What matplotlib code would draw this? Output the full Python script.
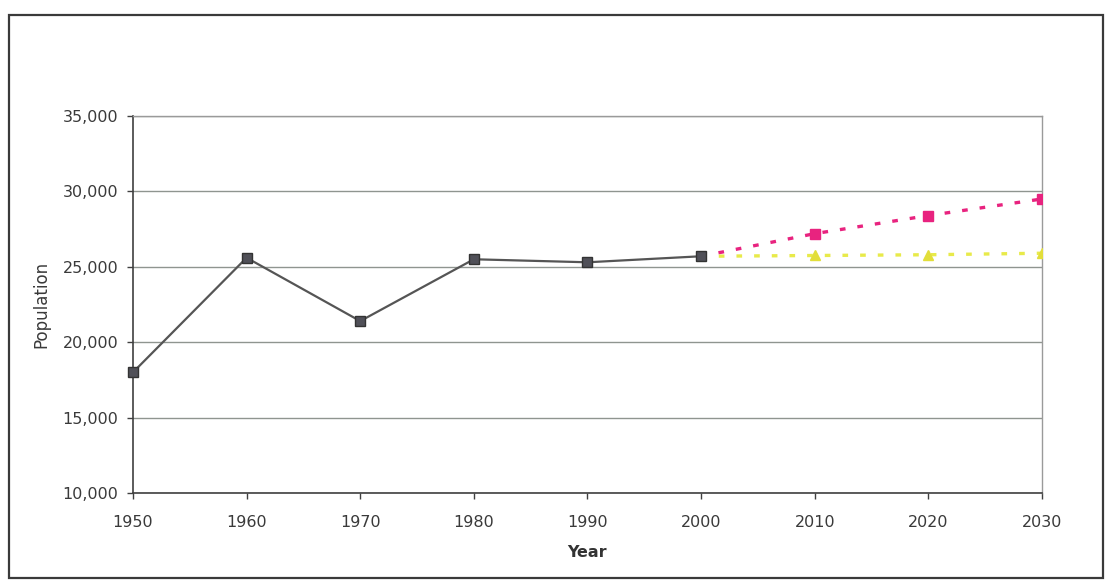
import matplotlib.pyplot as plt
from matplotlib.patches import Rectangle
from matplotlib.ticker import FuncFormatter

# census counts and the two projections
years = [1950, 1960, 1970, 1980, 1990, 2000]
population = [18000, 25600, 21400, 25500, 25300, 25700]

proj_years = [2000, 2010, 2020, 2030]
high_proj = [25700, 27200, 28400, 29500]
low_proj = [25700, 25750, 25800, 25900]

x_ticks = [1950, 1960, 1970, 1980, 1990, 2000, 2010, 2020, 2030]
y_ticks = [10000, 15000, 20000, 25000, 30000, 35000]

plt.rcParams['font.family'] = ['DejaVu Sans']

fig = plt.figure(figsize=(11.07, 5.81), dpi=100)
ax = fig.add_axes([0.1201, 0.1515, 0.8212, 0.6488])

# outer chart frame
fig.patches.append(Rectangle((0.008, 0.005), 0.988, 0.969, transform=fig.transFigure,
                             fill=False, edgecolor='#3a3a3a', linewidth=1.6))

ax.set_xlim(1950, 2030)
ax.set_ylim(10000, 35000)
ax.set_xticks(x_ticks)
ax.set_yticks(y_ticks)
ax.yaxis.set_major_formatter(FuncFormatter(lambda v, p: f'{int(v):,}'))

ax.grid(axis='y', color='#8f9590', linewidth=1.0)
ax.set_axisbelow(True)

# projections first so the 2000 marker sits on top
ax.plot(proj_years, high_proj, color='#e8237f', linewidth=2.4,
        linestyle=(0, (1.7, 3.6)), zorder=3)
ax.plot(proj_years[1:], high_proj[1:], linestyle='None', marker='s',
        markersize=7.5, color='#e8237f', zorder=4)
ax.plot(proj_years, low_proj, color='#e8ea4a', linewidth=2.4,
        linestyle=(0, (1.7, 3.6)), zorder=3)
ax.plot(proj_years[1:], low_proj[1:], linestyle='None', marker='^',
        markersize=7, color='#e2de3a', zorder=4)

ax.plot(years, population, color='#555555', linewidth=1.6, marker='s',
        markersize=7, markerfacecolor='#505058', markeredgecolor='#333333',
        clip_on=False, zorder=5)

for side in ['top', 'right']:
    ax.spines[side].set_color('#9a9a9a')
    ax.spines[side].set_linewidth(1.0)
for side in ['left', 'bottom']:
    ax.spines[side].set_color('#404040')
    ax.spines[side].set_linewidth(1.2)

ax.tick_params(axis='y', direction='out', length=4, width=1, pad=6.5,
               labelsize=11.5, colors='#404040', labelcolor='#3a3a3a')
ax.tick_params(axis='x', direction='out', length=4, width=1, pad=12,
               labelsize=11.5, colors='#404040', labelcolor='#3a3a3a')

ax.set_ylabel('Population', fontsize=12, color='#3a3a3a', labelpad=9)
ax.set_xlabel('Year', fontsize=11.5, fontweight='bold', color='#333333', labelpad=11)

fig.savefig('out.png', dpi=100)
